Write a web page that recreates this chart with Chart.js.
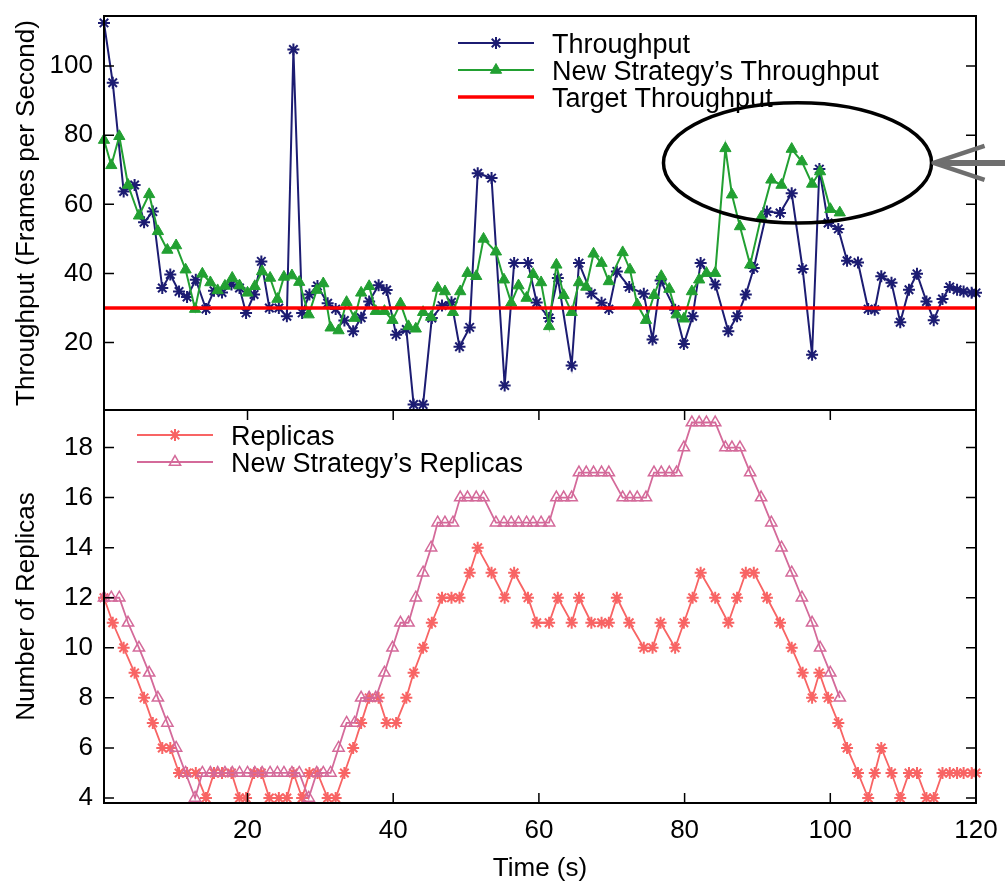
<!DOCTYPE html>
<html lang="en">
<head>
<meta charset="utf-8">
<title>Throughput and Replicas over Time</title>
<script src="https://cdn.jsdelivr.net/npm/chart.js@4.4.1/dist/chart.umd.min.js"></script>
<style>
  html, body { margin: 0; background: #fff; }
  #figure { position: relative; width: 1005px; height: 886px; }
  #figure canvas { position: absolute; left: 0; top: 0; }
</style>
</head>
<body>
<div id="figure">
  <canvas id="throughputChart" width="1005" height="886"></canvas>
  <canvas id="replicaChart" width="1005" height="886"></canvas>
</div>
<script>
// sample times (s): original run and new strategy's run
const timeBase = [
  0.3, 1.5, 3.0, 4.5, 5.8, 7.0, 8.3, 9.4, 10.6, 11.7,
  12.9, 14.3, 15.4, 16.5, 17.8, 18.9, 19.8, 20.9, 21.9, 23.0,
  24.3, 25.4, 26.3, 27.5, 28.5, 29.6, 31.0, 32.1, 33.3, 34.5,
  35.6, 36.7, 38.0, 39.1, 40.4, 41.8, 42.8, 44.1, 45.3, 46.7,
  48.0, 49.1, 50.5, 51.6, 53.5, 55.3, 56.6, 58.5, 59.7, 61.4,
  62.6, 64.5, 65.5, 67.2, 68.6, 69.6, 70.7, 72.4, 74.4, 75.6,
  76.7, 78.7, 79.9, 81.1, 82.2, 84.2, 86.0, 87.2, 88.4, 89.5,
  91.3, 93.1, 94.7, 96.2, 97.5, 98.5, 99.7, 101.1, 102.3, 103.8,
  105.2, 106.1, 107.0, 108.4, 109.6, 110.8, 111.9, 113.2, 114.2, 115.4,
  116.4, 117.4, 118.3, 119.4, 120.0
];
const timeNew = [
  0.3, 1.3, 2.4, 3.6, 5.1, 6.5, 7.7, 9.0, 10.2, 11.5,
  12.8, 13.8, 14.9, 15.9, 16.9, 17.9, 18.9, 20.0, 21.0, 22.0,
  23.1, 24.1, 25.0, 26.1, 27.1, 28.4, 29.5, 30.4, 31.4, 32.5,
  33.6, 34.7, 35.6, 36.7, 37.6, 38.8, 39.9, 41.0, 42.1, 43.1,
  44.1, 45.2, 46.1, 47.1, 48.2, 49.2, 50.2, 51.4, 52.4, 54.1,
  55.2, 56.2, 57.2, 58.3, 59.2, 60.3, 61.4, 62.4, 63.4, 64.5,
  65.5, 66.5, 67.5, 68.6, 69.6, 71.5, 72.5, 73.5, 74.7, 75.8,
  76.8, 77.9, 78.9, 79.9, 81.0, 82.0, 83.0, 84.2, 85.6, 86.5,
  87.6, 89.0, 90.5, 91.9, 93.3, 94.7, 96.1, 97.5, 98.6, 100.0,
  101.3
];

// frames per second
const throughput = [
  112.5, 95.2, 63.7, 65.6, 54.8, 57.9, 35.8, 39.7, 34.8, 33.2,
  38.2, 29.7, 35.0, 34.5, 36.8, 35.8, 28.6, 33.9, 43.5, 30.0,
  30.0, 27.6, 104.8, 28.6, 33.9, 36.4, 31.4, 29.7, 26.4, 23.3,
  27.2, 31.9, 36.6, 35.2, 22.3, 23.8, 2.1, 2.1, 27.1, 30.7,
  31.7, 18.8, 24.4, 69.0, 67.6, 7.6, 43.0, 43.0, 31.6, 27.1,
  38.7, 13.4, 43.0, 34.2, 31.5, 29.7, 40.6, 36.1, 34.1, 20.9,
  38.0, 29.5, 19.6, 27.6, 43.0, 36.8, 23.3, 27.6, 33.9, 41.6,
  57.9, 57.5, 63.2, 41.3, 16.5, 70.2, 54.6, 52.9, 43.7, 43.2,
  29.7, 29.5, 39.2, 37.3, 25.9, 35.3, 39.9, 31.9, 26.5, 32.6,
  36.1, 35.3, 34.8, 34.4, 34.4
];
const newThroughput = [
  78.6, 71.3, 79.7, 65.6, 56.7, 62.9, 52.2, 46.8, 48.1, 41.1,
  29.7, 39.9, 37.4, 35.1, 36.4, 38.7, 36.5, 34.4, 36.3, 40.6,
  38.7, 32.6, 39.0, 39.4, 37.5, 28.1, 35.2, 37.1, 24.3, 23.5,
  31.7, 27.1, 34.4, 36.3, 29.1, 29.1, 26.5, 31.3, 24.7, 24.0,
  28.8, 27.4, 35.8, 34.8, 28.8, 34.8, 40.1, 39.2, 50.0, 46.3,
  38.2, 31.5, 36.5, 32.9, 39.8, 37.4, 24.7, 42.5, 33.7, 28.8,
  37.4, 36.1, 45.7, 43.0, 37.7, 46.1, 41.1, 31.0, 26.5, 33.7,
  39.2, 35.5, 28.1, 26.9, 34.8, 38.2, 40.1, 40.1, 76.2, 62.8,
  53.6, 42.5, 56.3, 67.1, 65.6, 76.0, 72.4, 65.9, 69.5, 58.6,
  57.6
];
const targetThroughput = 30;

// number of replicas
const replicas = [
  12, 11, 10, 9, 8, 7, 6, 6, 5, 5,
  5, 4, 5, 5, 5, 4, 4, 5, 5, 4,
  4, 4, 5, 4, 5, 5, 4, 4, 5, 6,
  7, 8, 8, 7, 7, 8, 9, 10, 11, 12,
  12, 12, 13, 14, 13, 12, 13, 12, 11, 11,
  12, 11, 12, 11, 11, 11, 12, 11, 10, 10,
  11, 10, 11, 12, 13, 12, 11, 12, 13, 13,
  12, 11, 10, 9, 8, 9, 8, 7, 6, 5,
  4, 5, 6, 5, 4, 5, 5, 4, 4, 5,
  5, 5, 5, 5, 5
];
const newReplicas = [
  12, 12, 12, 11, 10, 9, 8, 7, 6, 5,
  4, 5, 5, 5, 5, 5, 5, 5, 5, 5,
  5, 5, 5, 5, 5, 4, 5, 5, 5, 6,
  7, 7, 8, 8, 8, 9, 10, 11, 11, 12,
  13, 14, 15, 15, 15, 16, 16, 16, 16, 15,
  15, 15, 15, 15, 15, 15, 15, 16, 16, 16,
  17, 17, 17, 17, 17, 16, 16, 16, 16, 17,
  17, 17, 17, 18, 19, 19, 19, 19, 18, 18,
  18, 17, 16, 15, 14, 13, 12, 11, 10, 9,
  8
];

const timeTicks = [20, 40, 60, 80, 100, 120];
const throughputTicks = [20, 40, 60, 80, 100];
const replicaTicks = [4, 6, 8, 10, 12, 14, 16, 18];

// circled region (data units) and the arrow pointing at it
const highlight = { x: 95.5, y: 72, rx: 18.4, ry: 17.4 };

Chart.defaults.font.family = '"Liberation Sans", Arial, Helvetica, sans-serif';
Chart.defaults.color = '#000';

function points(times, values) {
  return times.map((t, i) => ({ x: t, y: values[i] }));
}

function fixTicks(values) {
  return (scale) => {
    scale.ticks = values.map((v) => ({ value: v }));
  };
}

// pin the axis boxes so the plot areas line up between the two panels
function yBox(scale) {
  scale.width = 104;
  scale.paddingTop = 0;
  scale.paddingBottom = 0;
}
function xBox(scale) {
  scale.height = 83;
  scale.paddingLeft = 0;
  scale.paddingRight = 0;
}

// box around the plot, with short inward ticks mirrored on both sides
const frame = {
  id: 'frame',
  afterDraw(chart, args, opts) {
    const { ctx, chartArea: a, scales } = chart;
    const len = 10;
    ctx.save();
    ctx.strokeStyle = '#000';
    ctx.lineWidth = 1.5;
    ctx.beginPath();
    scales.y.ticks.forEach((t) => {
      const py = scales.y.getPixelForValue(t.value);
      ctx.moveTo(a.left, py);
      ctx.lineTo(a.left + len, py);
      ctx.moveTo(a.right, py);
      ctx.lineTo(a.right - len, py);
    });
    if (opts.xTicks) {
      scales.x.ticks.forEach((t) => {
        const px = scales.x.getPixelForValue(t.value);
        ctx.moveTo(px, a.bottom);
        ctx.lineTo(px, a.bottom - len);
        ctx.moveTo(px, a.top);
        ctx.lineTo(px, a.top + len);
      });
    }
    ctx.stroke();
    ctx.lineWidth = 2;
    ctx.strokeRect(a.left, a.top, a.right - a.left, a.bottom - a.top);
    ctx.restore();
  }
};

// key inside the plot: line sample with marker, then the label
const key = {
  id: 'key',
  afterDatasetsDraw(chart, args, opts) {
    const { ctx, chartArea: a } = chart;
    ctx.save();
    ctx.font = '27px "Liberation Sans", Arial, sans-serif';
    opts.items.forEach((index, row) => {
      const ds = chart.data.datasets[index];
      const y = a.top + opts.top + row * opts.rowHeight;
      const x0 = a.left + opts.left;
      const x1 = x0 + opts.sample;
      ctx.strokeStyle = ds.borderColor;
      ctx.lineWidth = ds.borderWidth;
      ctx.beginPath();
      ctx.moveTo(x0, y);
      ctx.lineTo(x1, y);
      ctx.stroke();
      if (ds.pointRadius > 0) {
        ctx.fillStyle = ds.pointBackgroundColor;
        ctx.strokeStyle = ds.pointBorderColor;
        ctx.lineWidth = ds.pointBorderWidth;
        Chart.helpers.drawPoint(ctx, {
          pointStyle: ds.pointStyle,
          radius: ds.pointRadius,
          borderWidth: ds.pointBorderWidth,
          rotation: 0
        }, (x0 + x1) / 2, y);
      }
      ctx.fillStyle = '#000';
      ctx.textBaseline = 'alphabetic';
      ctx.fillText(ds.label, x1 + opts.gap, y + 9.7);
    });
    ctx.restore();
  }
};

const callout = {
  id: 'callout',
  afterDraw(chart) {
    const { ctx, scales: { x, y } } = chart;
    const cx = x.getPixelForValue(highlight.x);
    const cy = y.getPixelForValue(highlight.y);
    const rx = x.getPixelForValue(highlight.x + highlight.rx) - cx;
    const ry = cy - y.getPixelForValue(highlight.y + highlight.ry);
    ctx.save();
    ctx.strokeStyle = '#000';
    ctx.lineWidth = 3.5;
    ctx.beginPath();
    ctx.ellipse(cx, cy, rx, ry, 0, 0, Math.PI * 2);
    ctx.stroke();

    const tip = cx + rx + 2;
    ctx.strokeStyle = '#6e6e6e';
    ctx.lineCap = 'butt';
    ctx.lineJoin = 'round';
    ctx.lineWidth = 6;
    ctx.beginPath();
    ctx.moveTo(chart.width, cy);
    ctx.lineTo(tip + 4, cy);
    ctx.stroke();
    ctx.lineWidth = 4.5;
    ctx.beginPath();
    ctx.moveTo(tip + 51, cy - 17);
    ctx.lineTo(tip, cy);
    ctx.lineTo(tip + 51, cy + 17);
    ctx.stroke();
    ctx.restore();
  }
};

const blue = '#1c1c72';
const green = '#22a032';
const salmon = '#f86464';
const pink = '#d46a9a';

const common = {
  responsive: false,
  animation: false,
  events: [],
  elements: { line: { tension: 0 } }
};

new Chart(document.getElementById('throughputChart'), {
  type: 'line',
  data: {
    datasets: [
      {
        label: 'Throughput',
        data: points(timeBase, throughput),
        borderColor: blue,
        borderWidth: 2,
        pointStyle: 'star',
        pointRadius: 6,
        pointBorderWidth: 2,
        pointBorderColor: blue,
        pointBackgroundColor: blue,
        clip: false,
        order: 2
      },
      {
        label: 'New Strategy’s Throughput',
        data: points(timeNew, newThroughput),
        borderColor: green,
        borderWidth: 2,
        pointStyle: 'triangle',
        pointRadius: 6.5,
        pointBorderWidth: 1,
        pointBorderColor: green,
        pointBackgroundColor: green,
        clip: false,
        order: 1
      },
      {
        label: 'Target Throughput',
        data: [
          { x: timeBase[0], y: targetThroughput },
          { x: timeBase[timeBase.length - 1], y: targetThroughput }
        ],
        borderColor: '#ff0000',
        borderWidth: 3.5,
        pointRadius: 0,
        order: 0
      }
    ]
  },
  options: {
    ...common,
    layout: { padding: { left: 0, right: 29, top: 16, bottom: 476 } },
    scales: {
      x: {
        type: 'linear',
        display: false,
        min: timeBase[0],
        max: timeBase[timeBase.length - 1]
      },
      y: {
        min: 0.5,
        max: 114.5,
        afterBuildTicks: fixTicks(throughputTicks),
        afterFit: yBox,
        grid: { display: false, drawTicks: false },
        border: { display: false },
        ticks: { font: { size: 26 }, padding: 11 },
        title: {
          display: true,
          text: 'Throughput (Frames per Second)',
          font: { size: 26 },
          padding: { top: 11, bottom: 0 }
        }
      }
    },
    plugins: {
      legend: { display: false },
      tooltip: { enabled: false },
      key: { items: [0, 1, 2], left: 354, top: 27, rowHeight: 27, sample: 76, gap: 18 },
      frame: { xTicks: false }
    }
  },
  plugins: [key, frame, callout]
});

new Chart(document.getElementById('replicaChart'), {
  type: 'line',
  data: {
    datasets: [
      {
        label: 'Replicas',
        data: points(timeBase, replicas),
        borderColor: salmon,
        borderWidth: 1.8,
        pointStyle: 'star',
        pointRadius: 6,
        pointBorderWidth: 2,
        pointBorderColor: salmon,
        pointBackgroundColor: salmon,
        clip: false,
        order: 1
      },
      {
        label: 'New Strategy’s Replicas',
        data: points(timeNew, newReplicas),
        borderColor: pink,
        borderWidth: 1.8,
        pointStyle: 'triangle',
        pointRadius: 6.5,
        pointBorderWidth: 1.5,
        pointBorderColor: pink,
        pointBackgroundColor: 'rgba(0,0,0,0)',
        clip: false,
        order: 0
      }
    ]
  },
  options: {
    ...common,
    layout: { padding: { left: 0, right: 29, top: 410, bottom: 0 } },
    scales: {
      x: {
        type: 'linear',
        min: timeBase[0],
        max: timeBase[timeBase.length - 1],
        afterBuildTicks: fixTicks(timeTicks),
        afterFit: xBox,
        grid: { display: false, drawTicks: false },
        border: { display: false },
        ticks: { font: { size: 26 }, padding: 12, maxRotation: 0, autoSkip: false },
        title: {
          display: true,
          text: 'Time (s)',
          font: { size: 26 },
          padding: { top: 0, bottom: 2 }
        }
      },
      y: {
        min: 3.8,
        max: 19.5,
        afterBuildTicks: fixTicks(replicaTicks),
        afterFit: yBox,
        grid: { display: false, drawTicks: false },
        border: { display: false },
        ticks: { font: { size: 26 }, padding: 11 },
        title: {
          display: true,
          text: 'Number of Replicas',
          font: { size: 26 },
          padding: { top: 11, bottom: 0 }
        }
      }
    },
    plugins: {
      legend: { display: false },
      tooltip: { enabled: false },
      key: { items: [0, 1], left: 33, top: 25, rowHeight: 27, sample: 76, gap: 18 },
      frame: { xTicks: true }
    }
  },
  plugins: [key, frame]
});
</script>
</body>
</html>
